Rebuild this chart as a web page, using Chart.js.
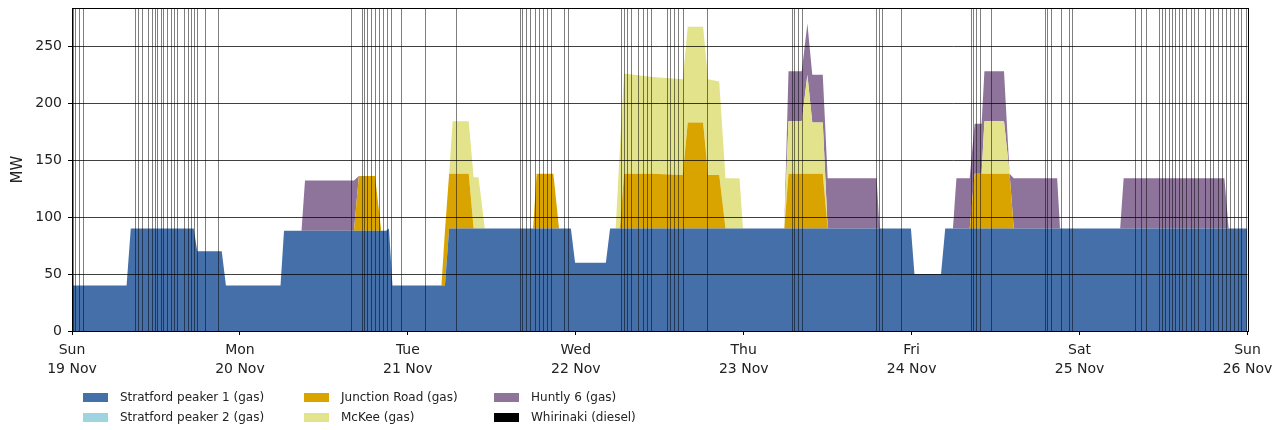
<!DOCTYPE html>
<html>
<head>
<meta charset="utf-8">
<script src="https://cdn.jsdelivr.net/npm/chart.js@4"></script>
<style>
  body { margin: 0; background: #fff; }
  #wrap { position: relative; width: 1288px; height: 430px; }
  #legend {
    position: absolute; left: 83px; top: 390px;
    display: grid; grid-auto-flow: column;
    grid-template-rows: 14px 14px; grid-template-columns: 221px 190px 200px;
    row-gap: 6px; font: 12px "DejaVu Sans"; color: #222;
  }
  #legend .item { display: flex; align-items: center; white-space: nowrap; }
  #legend .box { width: 25px; height: 9px; margin-right: 12px; }
</style>
</head>
<body>
<div id="wrap">
  <canvas id="chart" width="1288" height="430"></canvas>
  <div id="legend"></div>
</div>
<script>
// hours after Sun 19 Nov 00:00, shared by every series
const hours = [
  0, 7.8, 8.4, 17.4, 17.9, 21.4, 22.0, 29.8, 30.3, 32.8,
  33.3, 40.3, 41.0, 43.3, 44.2, 44.9, 45.3, 45.8, 52.8, 53.3,
  53.9, 54.4, 56.7, 57.4, 58.1, 59.0, 65.9, 66.4, 68.8, 69.6,
  71.3, 71.9, 76.3, 76.9, 77.7, 78.3, 78.9, 83.0, 87.3, 88.0,
  90.2, 90.9, 92.5, 93.4, 95.4, 95.9, 101.8, 102.4, 104.3, 105.1,
  105.8, 107.3, 108.0, 115.0, 115.4, 119.9, 120.4, 124.2, 124.8, 125.9,
  126.4, 128.3, 129.0, 130.0, 130.4, 133.2, 134.0, 134.6, 140.8, 141.2,
  149.8, 150.3, 164.7, 165.3, 168,
];

// MW
const stratford1 = [
  40, 40, 90, 90, 70, 70, 40, 40, 88, 88,
  88, 88, 88, 88, 88, 88, 90, 40, 40, 40,
  90, 90, 90, 90, 90, 90, 90, 90, 90, 90,
  90, 60, 60, 90, 90, 90, 90, 90, 90, 90,
  90, 90, 90, 90, 90, 90, 90, 90, 90, 90,
  90, 90, 90, 90, 90, 90, 50, 50, 90, 90,
  90, 90, 90, 90, 90, 90, 90, 90, 90, 90,
  90, 90, 90, 90, 90,
];
const junctionRoad = [
  0, 0, 0, 0, 0, 0, 0, 0, 0, 0,
  0, 0, 48, 48, 0, 0, 0, 0, 0, 48,
  48, 48, 48, 0, 0, 0, 0, 48, 48, 0,
  0, 0, 0, 0, 0, 0, 48, 48, 47, 93,
  93, 47, 47, 0, 0, 0, 0, 48, 48, 48,
  48, 48, 0, 0, 0, 0, 0, 0, 0, 0,
  0, 0, 48, 48, 48, 48, 48, 0, 0, 0,
  0, 0, 0, 0, 0,
];
const mckee = [
  0, 0, 0, 0, 0, 0, 0, 0, 0, 0,
  0, 0, 0, 0, 0, 0, 0, 0, 0, 0,
  0, 46, 46, 45, 45, 0, 0, 0, 0, 0,
  0, 0, 0, 0, 0, 70, 88, 85, 84, 84,
  84, 84, 82, 44, 44, 0, 0, 46, 46, 87,
  45, 45, 0, 0, 0, 0, 0, 0, 0, 0,
  0, 0, 0, 0, 46, 46, 0, 0, 0, 0,
  0, 0, 0, 0, 0,
];
const huntly6 = [
  0, 0, 0, 0, 0, 0, 0, 0, 0, 0,
  44, 44, 0, 0, 0, 0, 0, 0, 0, 0,
  0, 0, 0, 0, 0, 0, 0, 0, 0, 0,
  0, 0, 0, 0, 0, 0, 0, 0, 0, 0,
  0, 0, 0, 0, 0, 0, 0, 44, 44, 45,
  42, 42, 44, 44, 0, 0, 0, 0, 0, 0,
  44, 44, 44, 44, 44, 44, 0, 44, 44, 0,
  0, 44, 44, 0, 0,
];
// no output seen this week
const stratford2 = [];
const whirinaki = [];

// grey vertical markers, hours after Sun 19 Nov 00:00
const markerHours = [
  0.10, 0.39, 0.96, 1.53,
  9.00, 9.39, 9.96, 10.90, 11.43, 11.86, 12.19, 12.67, 13.04, 13.61,
  14.10, 14.61, 15.04, 16.04, 16.61, 17.00, 17.43, 17.81, 19.00, 20.90,
  39.86, 41.39, 41.76, 42.21, 42.76, 43.33, 43.93, 44.43, 45.00, 45.54,
  47.00, 50.43, 54.93,
  64.00, 64.36, 64.86, 65.43, 66.14, 66.79, 67.36, 67.86, 68.43, 70.31, 70.90,
  78.40, 78.83, 79.36, 79.90, 80.90, 81.54, 82.14, 82.79, 85.00, 85.47,
  86.03, 86.64, 87.33, 90.79,
  102.86, 103.24, 103.71, 104.29,
  114.96, 115.39, 115.79, 118.47,
  128.43, 128.76, 129.24, 129.79, 131.39,
  139.00, 139.36, 139.86, 141.39, 142.43, 142.90,
  151.86, 152.81, 153.43, 155.29, 155.76, 156.24, 156.71, 157.19, 157.67,
  158.19, 158.67, 159.24, 159.86, 160.33, 160.86, 161.96, 162.57, 163.04,
  163.76, 164.33, 164.96, 165.57, 166.04, 166.61, 167.10, 167.81,
];

const tickHours = [0, 24, 48, 72, 96, 120, 144, 168];
const dayNames = ["Sun", "Mon", "Tue", "Wed", "Thu", "Fri", "Sat", "Sun"];
const dateLabels = ["19 Nov", "20 Nov", "21 Nov", "22 Nov", "23 Nov", "24 Nov", "25 Nov", "26 Nov"];
const yTicks = [0, 50, 100, 150, 200, 250];

const toPoints = (vals) => vals.map((v, i) => ({ x: hours[i], y: v }));

function area(label, vals, color, fill) {
  return {
    label,
    data: toPoints(vals),
    backgroundColor: color,
    borderColor: color,
    borderWidth: 0,
    pointRadius: 0,
    tension: 0,
    fill,
  };
}

// stacking order bottom -> top
const datasets = [
  area("Stratford peaker 1 (gas)", stratford1, "#446fa8", "origin"),
  area("Junction Road (gas)", junctionRoad, "#d9a400", "-1"),
  area("McKee (gas)", mckee, "#e3e38c", "-1"),
  area("Huntly 6 (gas)", huntly6, "#8e739b", "-1"),
  area("Stratford peaker 2 (gas)", stratford2, "#9ed4df", false),
  area("Whirinaki (diesel)", whirinaki, "#000000", false),
];

// legend columns read top to bottom
const legendOrder = [
  "Stratford peaker 1 (gas)", "Stratford peaker 2 (gas)",
  "Junction Road (gas)", "McKee (gas)",
  "Huntly 6 (gas)", "Whirinaki (diesel)",
];

// grid + markers over the areas, then a box round the plot
const overlay = {
  id: "overlay",
  afterDatasetsDraw(chart) {
    const { ctx, chartArea: a, scales } = chart;
    ctx.save();
    ctx.lineWidth = 1;
    ctx.strokeStyle = "rgba(0,0,0,0.5)";
    markerHours.forEach((h) => {
      const px = Math.round(scales.x.getPixelForValue(h)) + 0.5;
      ctx.beginPath();
      ctx.moveTo(px, a.top);
      ctx.lineTo(px, a.bottom);
      ctx.stroke();
    });
    ctx.strokeStyle = "rgba(0,0,0,0.75)";
    yTicks.forEach((v) => {
      const py = Math.round(scales.y.getPixelForValue(v)) + 0.5;
      ctx.beginPath();
      ctx.moveTo(a.left, py);
      ctx.lineTo(a.right, py);
      ctx.stroke();
    });
    ctx.strokeStyle = "#000";
    ctx.strokeRect(Math.round(a.left) + 0.5, Math.round(a.top) + 0.5,
      Math.round(a.right - a.left), Math.round(a.bottom - a.top));
    ctx.restore();
  },
};

// html legend built from the datasets
const htmlLegend = {
  id: "htmlLegend",
  afterUpdate(chart) {
    const box = document.querySelector("#legend");
    box.innerHTML = "";
    legendOrder.forEach((name) => {
      const ds = chart.data.datasets.find((d) => d.label === name);
      const item = document.createElement("div");
      item.className = "item";
      const sw = document.createElement("span");
      sw.className = "box";
      sw.style.background = ds.backgroundColor;
      const txt = document.createElement("span");
      txt.textContent = ds.label;
      item.appendChild(sw);
      item.appendChild(txt);
      box.appendChild(item);
    });
  },
};

const tickFont = { family: "DejaVu Sans", size: 14 };

new Chart(document.querySelector("#chart"), {
  type: "line",
  data: { datasets },
  plugins: [overlay, htmlLegend],
  options: {
    responsive: false,
    animation: false,
    devicePixelRatio: 1,
    layout: { padding: { top: 8, right: 40.5, bottom: 50, left: 0 } },
    plugins: {
      legend: { display: false },
      tooltip: { enabled: false },
    },
    scales: {
      x: {
        type: "linear",
        min: 0,
        max: 168,
        afterBuildTicks: (s) => { s.ticks = tickHours.map((v) => ({ value: v })); },
        afterFit: (s) => { s.height = 49; },
        ticks: {
          autoSkip: false,
          maxRotation: 0,
          padding: 6,
          color: "#222",
          font: { ...tickFont, lineHeight: 1.35 },
          callback: (v, i) => [dayNames[i], dateLabels[i]],
        },
        grid: { drawOnChartArea: false, tickLength: 4, tickColor: "#000" },
        border: { color: "#000" },
      },
      y: {
        type: "linear",
        stacked: true,
        min: 0,
        max: 283.5,
        afterBuildTicks: (s) => { s.ticks = yTicks.map((v) => ({ value: v })); },
        afterFit: (s) => { s.width = 72; s.paddingTop = 0; s.paddingBottom = 0; },
        ticks: { padding: 6, color: "#222", font: tickFont },
        grid: { drawOnChartArea: false, tickLength: 4, tickColor: "#000" },
        border: { color: "#000" },
        title: {
          display: true,
          text: "MW",
          color: "#222",
          font: { family: "DejaVu Sans", size: 15 },
          padding: { top: 9, bottom: 0 },
        },
      },
    },
  },
});
</script>
</body>
</html>
